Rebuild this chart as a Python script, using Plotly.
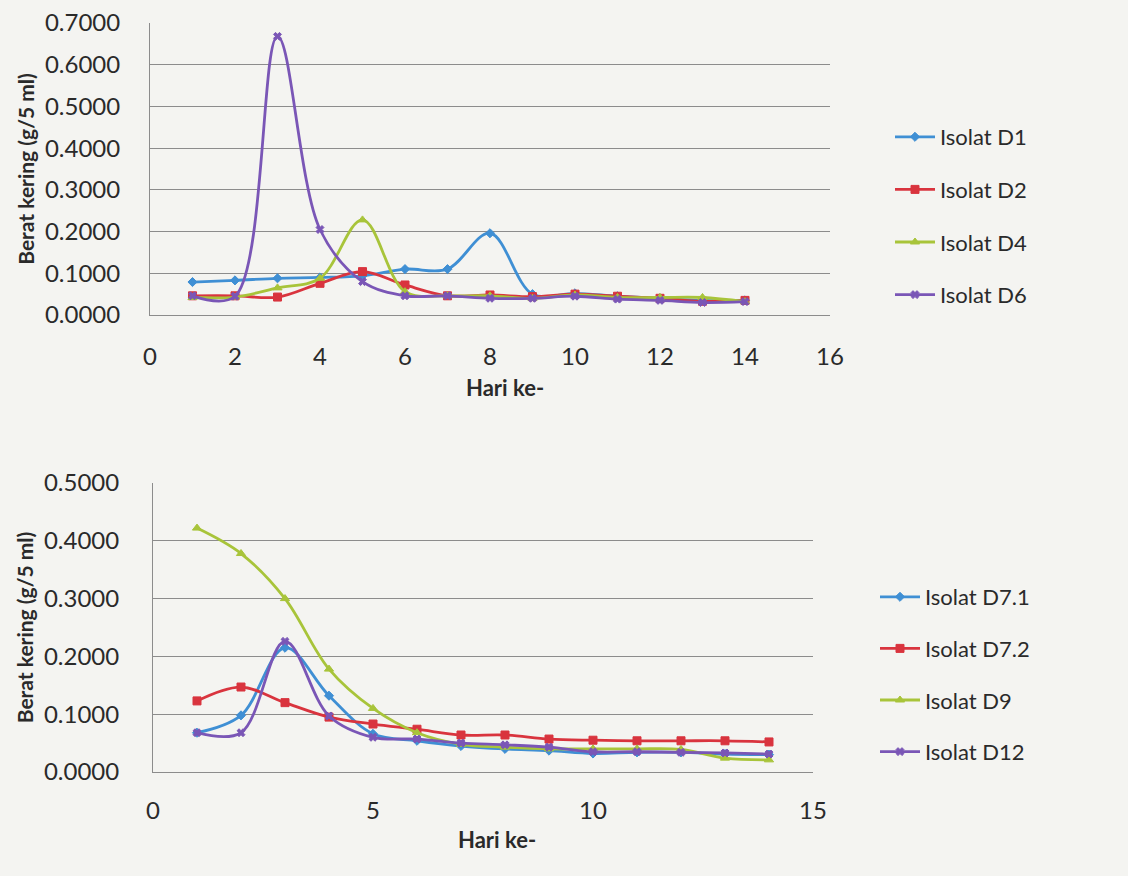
import plotly.graph_objects as go

W, H = 1128, 876

days = [1, 2, 3, 4, 5, 6, 7, 8, 9, 10, 11, 12, 13, 14]

# Top chart (g/5 ml)
d1 = [0.079, 0.083, 0.088, 0.090, 0.094, 0.110, 0.110, 0.196, 0.050, 0.052, 0.045, 0.040, 0.035, 0.035]
d2 = [0.046, 0.046, 0.043, 0.076, 0.104, 0.072, 0.046, 0.048, 0.044, 0.050, 0.045, 0.040, 0.033, 0.035]
d4 = [0.042, 0.043, 0.065, 0.088, 0.228, 0.056, 0.046, 0.046, 0.040, 0.048, 0.042, 0.042, 0.042, 0.032]
d6 = [0.046, 0.045, 0.668, 0.205, 0.080, 0.046, 0.046, 0.040, 0.040, 0.045, 0.038, 0.035, 0.030, 0.032]

# Bottom chart (g/5 ml)
d71 = [0.068, 0.098, 0.215, 0.132, 0.066, 0.054, 0.045, 0.040, 0.037, 0.032, 0.034, 0.034, 0.031, 0.030]
d72 = [0.123, 0.147, 0.120, 0.095, 0.083, 0.074, 0.064, 0.064, 0.057, 0.055, 0.054, 0.054, 0.054, 0.052]
d9 = [0.422, 0.378, 0.300, 0.178, 0.110, 0.068, 0.048, 0.043, 0.040, 0.040, 0.040, 0.039, 0.024, 0.021]
d12 = [0.068, 0.068, 0.226, 0.097, 0.060, 0.057, 0.050, 0.047, 0.043, 0.035, 0.035, 0.034, 0.033, 0.031]

top_names = ["Isolat D1", "Isolat D2", "Isolat D4", "Isolat D6"]
bot_names = ["Isolat D7.1", "Isolat D7.2", "Isolat D9", "Isolat D12"]

BLUE = "#3f8fd4"
RED = "#d9343e"
GREEN = "#a8c43a"
PURPLE = "#7a56b6"
colors = [BLUE, RED, GREEN, PURPLE]
symbols = ["diamond", "square", "triangle-up", "x"]
msizes = [7, 8, 8, 7]

FONT = "Lato, 'Open Sans', sans-serif"
TXT = "#2a2a2a"
GRID = "#8c8c8c"

fig = go.Figure()

for name, ys, c, s, ms in zip(top_names, [d1, d2, d4, d6], colors, symbols, msizes):
    fig.add_trace(go.Scatter(
        x=days, y=ys, name=name, mode="lines+markers",
        line=dict(color=c, width=2.8, shape="spline", smoothing=1.0),
        marker=dict(color=c, symbol=s, size=ms, line=dict(color=c, width=1)),
        xaxis="x", yaxis="y", legend="legend", legendgroup=name,
    ))

for name, ys, c, s, ms in zip(bot_names, [d71, d72, d9, d12], colors, symbols, msizes):
    fig.add_trace(go.Scatter(
        x=days, y=ys, name=name, mode="lines+markers",
        line=dict(color=c, width=2.8, shape="spline", smoothing=1.0),
        marker=dict(color=c, symbol=s, size=ms, line=dict(color=c, width=1)),
        xaxis="x2", yaxis="y2", legend="legend2", legendgroup=name,
    ))

def px_x(p):
    return p / W

def px_y(p):
    return 1 - p / H

tick_font = dict(family=FONT, size=24, color=TXT)
title_font = dict(family=FONT, size=21, color=TXT, weight="bold")

fig.update_layout(
    width=W, height=H, autosize=False,
    margin=dict(l=0, r=0, t=0, b=0, autoexpand=False),
    paper_bgcolor="#f4f4f1",
    plot_bgcolor="rgba(0,0,0,0)",
    showlegend=True,
    xaxis=dict(
        domain=[px_x(150), px_x(830)], range=[0, 16], dtick=2, tick0=0,
        showgrid=False, zeroline=False, showline=True, linecolor=GRID, linewidth=1,
        ticks="outside", ticklen=20, tickcolor="rgba(0,0,0,0)",
        tickfont=tick_font, anchor="y",
    ),
    yaxis=dict(
        domain=[px_y(315), px_y(23)], range=[0, 0.7], dtick=0.1, tickformat=".4f",
        showgrid=True, gridcolor=GRID, gridwidth=1, zeroline=False,
        showline=True, linecolor=GRID, linewidth=1,
        ticks="outside", ticklen=24, tickcolor="rgba(0,0,0,0)",
        tickfont=tick_font, anchor="x",
        title=dict(text="Berat kering (g/5 ml)", font=title_font, standoff=4),
    ),
    xaxis2=dict(
        domain=[px_x(153), px_x(813)], range=[0, 15], dtick=5, tick0=0,
        showgrid=False, zeroline=False, showline=True, linecolor=GRID, linewidth=1,
        ticks="outside", ticklen=17, tickcolor="rgba(0,0,0,0)",
        tickfont=tick_font, anchor="y2",
    ),
    yaxis2=dict(
        domain=[px_y(772), px_y(483)], range=[0, 0.5], dtick=0.1, tickformat=".4f",
        showgrid=True, gridcolor=GRID, gridwidth=1, zeroline=False,
        showline=True, linecolor=GRID, linewidth=1,
        ticks="outside", ticklen=28, tickcolor="rgba(0,0,0,0)",
        tickfont=tick_font, anchor="x2",
        title=dict(text="Berat kering (g/5 ml)", font=title_font, standoff=4),
    ),
    legend=dict(
        x=px_x(890), y=px_y(116), xanchor="left", yanchor="top",
        bgcolor="rgba(0,0,0,0)", font=dict(family=FONT, size=22, color=TXT),
        traceorder="grouped", tracegroupgap=21, itemwidth=40,
    ),
    legend2=dict(
        x=px_x(875), y=px_y(576), xanchor="left", yanchor="top",
        bgcolor="rgba(0,0,0,0)", font=dict(family=FONT, size=22, color=TXT),
        traceorder="grouped", tracegroupgap=20, itemwidth=40,
    ),
    annotations=[
        dict(text="<b>Hari ke-</b>", x=px_x(505), y=px_y(387), xref="paper", yref="paper",
             showarrow=False, font=dict(family=FONT, size=22, color=TXT)),
        dict(text="<b>Hari ke-</b>", x=px_x(497), y=px_y(855), xref="paper", yref="paper",
             showarrow=False, font=dict(family=FONT, size=22, color=TXT)),
    ],
)

fig.write_html(
    "out.html",
    config={"responsive": False, "displayModeBar": False},
    default_width="1128px",
    default_height="876px",
    post_script="document.body.style.margin='0';document.body.style.overflow='hidden';",
)
